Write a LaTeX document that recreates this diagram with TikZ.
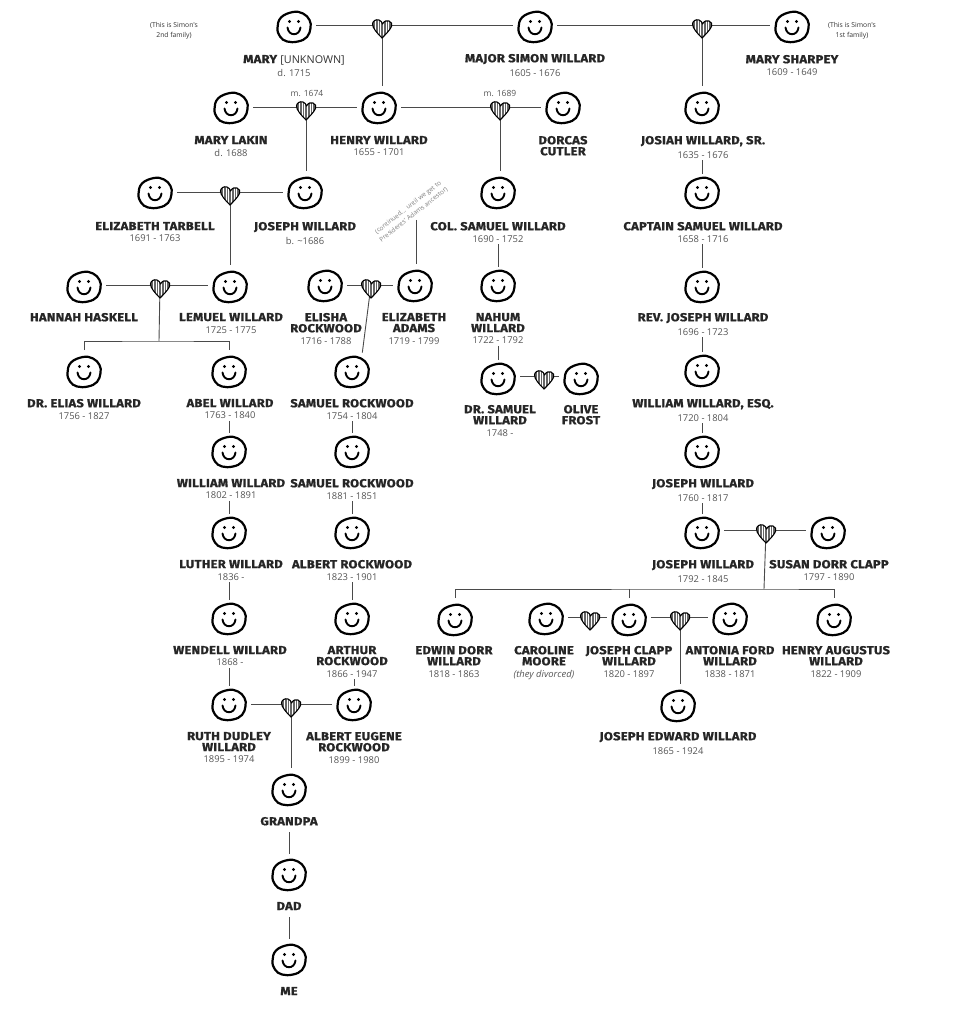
\documentclass[tikz,border=0pt]{standalone}
\usepackage{fontspec}
\usetikzlibrary{backgrounds}
\setmainfont{Open Sans}
\newfontfamily\nff[FakeStretch=1.12,BoldFeatures={FakeBold=1.0,LetterSpace=2}]{Fira Sans}
\newfontfamily\opn{Open Sans}
\definecolor{dategray}{HTML}{555555}
\definecolor{linegray}{HTML}{4A4A4A}
\newcommand\nmf{\nff\bfseries\fontsize{11.6}{11}\selectfont\color{black!85}}
\newcommand\dtf{\opn\mdseries\fontsize{9.4}{11}\selectfont\color{dategray}}
\tikzset{
  facenode/.style={circle,inner sep=0pt,minimum size=44pt,outer sep=0pt},
  heartnode/.style={circle,inner sep=0pt,minimum size=0pt,outer sep=0pt},
  lab/.style={anchor=north,align=center,inner sep=0pt,outer sep=0pt,font=\nmf},
  datelab/.style={anchor=north,inner sep=0pt,outer sep=0pt,font=\dtf},
  smallnote/.style={align=center,inner sep=0pt,font=\opn\fontsize{6.8}{10}\selectfont\color{black!80}},
  conn/.style={draw=linegray,line width=.9pt}
}
\newcommand\faceart[3]{%
  \node[facenode] (#1) at (#2,#3) {};
  \begin{scope}[shift={(#2,#3)},line width=2.2pt,black]
    \draw plot[smooth cycle,tension=.7] coordinates {(-1,-15)(9,-13.5)(15.5,-7)(16.5,1)(13,10)(4,14.5)(-7,14.5)(-14,9.5)(-16.5,1)(-13,-9.5)};
    \fill (-4.5,-5.5) circle (1.7);
    \fill (4.5,-5.5) circle (1.7);
    \draw[line width=1.9pt,line cap=round] (-6.5,0.5) .. controls (-5.5,9.5) and (5.5,9.5) .. (6.5,0.5);
  \end{scope}}
% id, x, y, label x, first name line centre y, name, date
\newcommand\person[7]{%
  \faceart{#1}{#2}{#3}
  \node[lab] (#1N) at (#4,#5-4) {#6};
  \node[datelab] (#1L) at ([yshift=-5pt]#1N.south) {#7};}
\newcommand\persn[6]{%
  \faceart{#1}{#2}{#3}
  \node[lab] (#1L) at (#4,#5-4) {#6};}
\newcommand\heartmark[3]{%
  \node[heartnode] (#1) at (#2,#3) {};
  \begin{scope}[shift={(#2,#3)}]
    \def\hpath{(0,13) .. controls (-5,8) and (-9.5,3) .. (-9.5,-1) .. controls (-9.5,-4) and (-6,-6) .. (-3,-5) .. controls (-1,-4.5) and (0,-2.5) .. (0.5,-1) .. controls (2,-4) and (5,-5) .. (7,-4) .. controls (9.5,-3) and (10.5,-1) .. (9.5,1.5) .. controls (8,5) and (4,9) .. (0,13) -- cycle}
    \fill[white] \hpath;
    \begin{scope}
      \clip \hpath;
      \foreach \sx in {-9,-7.4,-5.8,-4.2,-2.6,-1,0.6,2.2,3.8,5.4,7,8.6}
        \draw[black!60,line width=.8pt] (\sx,-7) -- (\sx,14);
    \end{scope}
    \draw[black,line width=1.1pt,line join=round] \hpath;
  \end{scope}}
\newcommand\kid[2]{\draw[conn] (#1.center) -- (#1.center |- #2.north);}
\newcommand\lnk[2]{\draw[conn] ([yshift=-2pt]#2.north |- #1.south) -- ([yshift=-3pt]#2.north);}
\newcommand\lnkb[2]{\draw[conn] ([yshift=-7pt]#2.north |- #1.south) -- ([yshift=-1pt]#2.north);}
\begin{document}
\begin{tikzpicture}[x=1pt,y=-1pt]
\useasboundingbox (0,0) rectangle (976,1024);
\begin{scope}[on background layer]
  \fill[white] (0,0) rectangle (976,1024);
\end{scope}
% people
\person{maryu}{294}{27}{294}{59}{MARY {\opn\mdseries\fontsize{10.8}{11}\selectfont\color{black!80}[UNKNOWN]}}{d. 1715}
\person{simon}{535}{27}{535}{58}{MAJOR SIMON WILLARD}{1605 - 1676}
\person{marys}{792}{27}{792}{59}{MARY SHARPEY}{1609 - 1649}
\person{lakin}{231}{108}{231}{140}{MARY LAKIN}{d. 1688}
\person{henry}{379}{108}{379}{140}{HENRY WILLARD}{1655 - 1701}
\persn{dorcas}{563}{108}{563}{140}{DORCAS\\CUTLER}
\person{josiah}{702}{108}{703}{140}{JOSIAH WILLARD, SR.}{1635 - 1676}
\person{tarbell}{155}{193}{155}{226}{ELIZABETH TARBELL}{1691 - 1763}
\person{josephb}{305}{193}{305}{226}{JOSEPH WILLARD}{b. \textasciitilde 1686}
\person{col}{498}{193}{498}{226}{COL. SAMUEL WILLARD}{1690 - 1752}
\person{capt}{702}{193}{703}{226}{CAPTAIN SAMUEL WILLARD}{1658 - 1716}
\persn{hannah}{84}{287}{84}{317}{HANNAH HASKELL}
\person{lemuel}{230}{287}{231}{317}{LEMUEL WILLARD}{1725 - 1775}
\person{elisha}{325}{286}{326}{317}{ELISHA\\ROCKWOOD}{1716 - 1788}
\person{eadams}{415}{286}{414}{317}{ELIZABETH\\ADAMS}{1719 - 1799}
\person{nahum}{498}{286}{498}{317}{NAHUM\\WILLARD}{1722 - 1792}
\person{rev}{702}{287}{703}{317}{REV. JOSEPH WILLARD}{1696 - 1723}
\person{elias}{84}{372}{84}{403}{DR. ELIAS WILLARD}{1756 - 1827}
\person{abel}{229}{372}{230}{403}{ABEL WILLARD}{1763 - 1840}
\person{samr}{352}{372}{352}{403}{SAMUEL ROCKWOOD}{1754 - 1804}
\person{drsam}{498}{379}{500}{409}{DR. SAMUEL\\WILLARD}{1748 -}
\persn{olive}{581}{379}{581}{409}{OLIVE\\FROST}
\person{wesq}{702}{371}{703}{403}{WILLIAM WILLARD, ESQ.}{1720 - 1804}
\person{william}{229}{452}{231}{483}{WILLIAM WILLARD}{1802 - 1891}
\person{samrb}{352}{452}{352}{483}{SAMUEL ROCKWOOD}{1881 - 1851}
\person{josepha}{702}{452}{703}{483}{JOSEPH WILLARD}{1760 - 1817}
\person{luther}{229}{533}{231}{564}{LUTHER WILLARD}{1836 -}
\person{albertr}{352}{533}{352}{564}{ALBERT ROCKWOOD}{1823 - 1901}
\person{josephc}{702}{533}{703}{564}{JOSEPH WILLARD}{1792 - 1845}
\person{susan}{828}{533}{829}{564}{SUSAN DORR CLAPP}{1797 - 1890}
\person{wendell}{229}{619}{230}{650}{WENDELL WILLARD}{1868 -}
\person{arthur}{352}{619}{352}{650}{ARTHUR\\ROCKWOOD}{1866 - 1947}
\person{edwin}{455}{620}{454}{650}{EDWIN DORR\\WILLARD}{1818 - 1863}
\person{caroline}{546}{619}{544}{650}{CAROLINE\\MOORE}{\itshape (they divorced)}
\person{clapp}{629}{620}{629}{650}{JOSEPH CLAPP\\WILLARD}{1820 - 1897}
\person{antonia}{730}{619}{730}{650}{ANTONIA FORD\\WILLARD}{1838 - 1871}
\person{augustus}{834}{620}{836}{650}{HENRY AUGUSTUS\\WILLARD}{1822 - 1909}
\person{edward}{678}{706}{678}{736}{JOSEPH EDWARD WILLARD}{1865 - 1924}
\person{ruth}{229}{705}{229}{736}{RUTH DUDLEY\\WILLARD}{1895 - 1974}
\person{eugene}{354}{705}{354}{736}{ALBERT EUGENE\\ROCKWOOD}{1899 - 1980}
\persn{grandpa}{289}{790}{289}{821}{GRANDPA}
\persn{dad}{289}{875}{289}{906}{DAD}
\persn{me}{289}{960}{289}{991}{ME}
% hearts
\heartmark{h1}{382}{25}
\heartmark{h2}{702}{25}
\heartmark{h3}{306}{107}
\heartmark{h4}{500}{107}
\heartmark{h5}{230}{192}
\heartmark{h6}{160}{285}
\heartmark{h7}{371}{285}
\heartmark{h8}{544}{376}
\heartmark{h9}{766}{530}
\heartmark{h10}{590}{617}
\heartmark{h11}{680}{617}
\heartmark{h12}{291}{704}
% notes
\node[smallnote] (n1) at (174,31) {(This is Simon's\\2nd family)};
\node[smallnote] (n2) at (852,31) {(This is Simon's\\1st family)};
\node[smallnote,font=\opn\fontsize{8.5}{10}\selectfont\color{dategray}] (m1) at (307,93) {m. 1674};
\node[smallnote,font=\opn\fontsize{8.5}{10}\selectfont\color{dategray}] (m2) at (500,93) {m. 1689};
\node[smallnote,rotate=38,font=\opn\fontsize{6.4}{9}\selectfont\color{black!50}] (cont) at (411,211) {(continued... until we get to\\Presidents' Adams ancestor)};
\coordinate (contend) at (416,220);
\coordinate (bara) at (159,341);
\coordinate (barb) at (764,589);
\begin{scope}[on background layer]
  \draw[conn] (h1.center) -- (h1.center -| maryu.east);
  \draw[conn] (h1.center) -- (h1.center -| simon.west);
  \draw[conn] (h2.center) -- (h2.center -| simon.east);
  \draw[conn] (h2.center) -- (h2.center -| marys.west);
  \kid{h1}{henry}\kid{h2}{josiah}
  \draw[conn] (h3.center) -- (h3.center -| lakin.east);
  \draw[conn] (h3.center) -- (h3.center -| henry.west);
  \draw[conn] (h4.center) -- (h4.center -| henry.east);
  \draw[conn] (h4.center) -- (h4.center -| dorcas.west);
  \kid{h3}{josephb}\kid{h4}{col}
  \draw[conn] (h5.center) -- (h5.center -| tarbell.east);
  \draw[conn] (h5.center) -- (h5.center -| josephb.west);
  \kid{h5}{lemuel}
  \draw[conn] (h6.center) -- (h6.center -| hannah.east);
  \draw[conn] (h6.center) -- (h6.center -| lemuel.west);
  \draw[conn] (h6.center) -- (bara);
  \draw[conn] (elias.north) |- (bara) -| (abel.north);
  \draw[conn] (h7.center) -- (h7.center -| elisha.east);
  \draw[conn] (h7.center) -- (h7.center -| eadams.west);
  \draw[conn] (h7.center) -- (samr.62);
  \draw[conn] (contend) -- (eadams.north -| contend);
  \draw[conn] (h8.center) -- (h8.center -| drsam.east);
  \draw[conn] (h8.center) -- (h8.center -| olive.west);
  \draw[conn] (h9.center) -- (h9.center -| josephc.east);
  \draw[conn] (h9.center) -- (h9.center -| susan.west);
  \draw[conn] (h9.center) -- (barb);
  \draw[conn] (edwin.north) |- (barb) -| (augustus.north);
  \draw[conn] (clapp.north) -- (clapp.north |- barb);
  \draw[conn] (h10.center) -- (h10.center -| caroline.east);
  \draw[conn] (h10.center) -- (h10.center -| clapp.west);
  \draw[conn] (h11.center) -- (h11.center -| clapp.east);
  \draw[conn] (h11.center) -- (h11.center -| antonia.west);
  \kid{h11}{edward}
  \draw[conn] (h12.center) -- (h12.center -| ruth.east);
  \draw[conn] (h12.center) -- (h12.center -| eugene.west);
  \kid{h12}{grandpa}
  % parent label to child face
  \lnk{josiahL}{capt}\lnk{captL}{rev}\lnk{revL}{wesq}\lnk{wesqL}{josepha}\lnk{josephaL}{josephc}
  \lnk{colL}{nahum}\lnk{nahumL}{drsam}
  \lnk{abelL}{william}\lnk{williamL}{luther}\lnk{lutherL}{wendell}\lnk{wendellL}{ruth}
  \lnk{samrL}{samrb}\lnk{samrbL}{albertr}\lnk{albertrL}{arthur}\lnk{arthurL}{eugene}
  \lnkb{grandpaL}{dad}\lnkb{dadL}{me}
\end{scope}
\end{tikzpicture}
\end{document}
